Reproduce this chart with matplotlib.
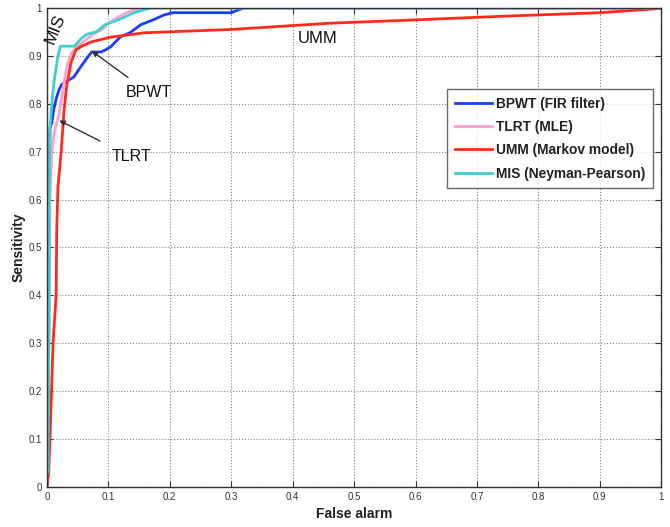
import matplotlib
matplotlib.use("Agg")
import matplotlib.pyplot as plt
from matplotlib.ticker import FuncFormatter

# ---- data ----
bpwt_fa = [0, 0.003, 0.004, 0.005, 0.008, 0.011, 0.015, 0.02, 0.024, 0.03, 0.044, 0.055, 0.065,
           0.073, 0.088, 0.095, 0.104, 0.12, 0.135, 0.153, 0.173, 0.19, 0.205, 0.3, 0.31, 0.32, 1.0]
bpwt_sens = [0, 0.3, 0.6, 0.75, 0.76, 0.787, 0.81, 0.83, 0.84, 0.845, 0.856, 0.877, 0.895,
             0.908, 0.908, 0.912, 0.919, 0.94, 0.948, 0.965, 0.975, 0.985, 0.99, 0.99, 0.995, 1.0, 1.0]

tlrt_fa = [0, 0.003, 0.005, 0.008, 0.012, 0.016, 0.02, 0.025, 0.03, 0.035, 0.04, 0.05, 0.06,
           0.075, 0.09, 0.1, 0.115, 0.13, 0.15, 1.0]
tlrt_sens = [0, 0.3, 0.6, 0.7, 0.74, 0.76, 0.78, 0.82, 0.86, 0.89, 0.905, 0.92, 0.93,
             0.945, 0.955, 0.968, 0.98, 0.99, 1.0, 1.0]

umm_fa = [0, 0.003, 0.005, 0.008, 0.01, 0.013, 0.015, 0.016, 0.018, 0.023, 0.028, 0.032, 0.039,
          0.047, 0.055, 0.072, 0.104, 0.158, 0.3, 0.46, 0.6, 0.75, 0.9, 0.99, 1.0]
umm_sens = [0, 0.03, 0.1, 0.22, 0.3, 0.36, 0.40, 0.536, 0.626, 0.697, 0.787, 0.835, 0.885,
            0.912, 0.919, 0.929, 0.939, 0.948, 0.955, 0.968, 0.975, 0.983, 0.99, 0.998, 1.0]

mis_fa = [0, 0.002, 0.003, 0.004, 0.005, 0.008, 0.012, 0.018, 0.022, 0.045, 0.055, 0.065, 0.08,
          0.095, 0.11, 0.125, 0.142, 0.155, 0.17, 1.0]
mis_sens = [0.03, 0.03, 0.3, 0.6, 0.75, 0.8, 0.85, 0.9, 0.92, 0.92, 0.935, 0.945, 0.95,
            0.965, 0.972, 0.98, 0.99, 0.995, 1.0, 1.0]

labels = ["BPWT (FIR filter)", "TLRT (MLE)", "UMM (Markov model)", "MIS (Neyman-Pearson)"]
colors = ["#1a3cff", "#ff9fd0", "#ff2a1a", "#3fcfcf"]
ticks = [0, 0.1, 0.2, 0.3, 0.4, 0.5, 0.6, 0.7, 0.8, 0.9, 1]

plt.rcParams['font.family'] = ['Liberation Sans', 'DejaVu Sans']

fig = plt.figure(figsize=(6.7, 5.27), dpi=100)
ax = fig.add_axes([0.070, 0.076, 0.917, 0.909])

series = [(bpwt_fa, bpwt_sens), (tlrt_fa, tlrt_sens), (umm_fa, umm_sens), (mis_fa, mis_sens)]
for (fa, se), lab, c in zip(series, labels, colors):
    ax.plot(fa, se, color=c, lw=2.0, label=lab)

ax.set_xlim(0, 1)
ax.set_ylim(0, 1)
ax.set_xticks(ticks)
ax.set_yticks(ticks)
fmt = FuncFormatter(lambda v, p: ("%g" % v))
ax.xaxis.set_major_formatter(fmt)
ax.yaxis.set_major_formatter(fmt)
ax.tick_params(direction='in', top=True, right=True, labelsize=7, colors='#333333', length=4)
ax.grid(True, linestyle=':', color='#888888', lw=0.8)
for s in ax.spines.values():
    s.set_color('#333333')
    s.set_linewidth(1.0)

ax.set_xlabel("False alarm", fontsize=10, fontweight='bold', color='#222222')
ax.set_ylabel("Sensitivity", fontsize=10, fontweight='bold', color='#222222', labelpad=2)

leg = ax.legend(loc='upper left', bbox_to_anchor=(0.640, 0.845), fontsize=9.9,
                frameon=True, fancybox=False, edgecolor='#444444', handlelength=2.7,
                labelspacing=0.68, borderpad=0.55, handletextpad=0.3)
leg.get_frame().set_linewidth(1.0)
for t in leg.get_texts():
    t.set_fontweight('bold')
    t.set_color('#222222')

ax.text(0.014, 0.957, "MIS", rotation=68, fontsize=12.5, ha='center', va='center', color='#111111')
ax.text(0.44, 0.937, "UMM", fontsize=12, ha='center', va='center', color='#111111')
ax.annotate("BPWT", xy=(0.073, 0.91), xytext=(0.166, 0.823), fontsize=11.5, ha='center', va='center',
            color='#111111', arrowprops=dict(arrowstyle='-|>', color='#333333', lw=1.0,
                                             shrinkA=6, shrinkB=0, mutation_scale=8))
ax.annotate("TLRT", xy=(0.02, 0.765), xytext=(0.138, 0.689), fontsize=11.5, ha='center', va='center',
            color='#111111', arrowprops=dict(arrowstyle='-|>', color='#333333', lw=1.0,
                                             shrinkA=9, shrinkB=0, mutation_scale=8))

fig.savefig("out.png", dpi=100)
